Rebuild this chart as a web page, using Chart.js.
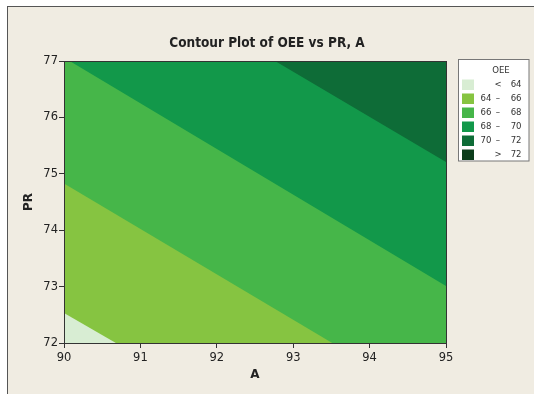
<!DOCTYPE html>
<html><head><meta charset="utf-8">
<script src="https://cdn.jsdelivr.net/npm/chart.js@4"></script>
<style>
html,body{margin:0;padding:0;background:#fff;}
#wrap{position:relative;width:534px;height:394px;overflow:hidden;}
#frame{position:absolute;left:7px;top:6px;width:600px;height:500px;background:#f0ece2;border-top:1px solid #555;border-left:1px solid #555;}
canvas{position:absolute;left:0;top:0;}
</style></head><body>
<div id="wrap"><div id="frame"></div><canvas id="c" width="534" height="394"></canvas></div>
<script>
// ---- data ----
const xTicks = [90, 91, 92, 93, 94, 95];
const yTicks = [72, 73, 74, 75, 76, 77];
const levels = [64, 66, 68, 70, 72];
// PR value of each straight contour line at A = 90 and A = 95 (lines run past the plot edges)
const contourAtA90 = [72.53, 74.83, 77.06, 79.21, 81.40];
const contourAtA95 = [68.63, 70.80, 73.01, 75.21, 77.40];
const bandColors = ['#d8edd3', '#86c441', '#46b649', '#12984a', '#0e6c37', '#0c3d1b'];

const datasets = levels.map((lv, i) => ({
  label: String(lv),
  data: [{x: xTicks[0], y: contourAtA90[i]}, {x: xTicks[xTicks.length - 1], y: contourAtA95[i]}],
  showLine: true,
  fill: 'end',
  backgroundColor: bandColors[i + 1],
  borderWidth: 0,
  pointRadius: 0,
  order: levels.length - i
}));

const legendRows = bandColors.map((c, i) => {
  if (i === 0) return {lo: '', sym: '<', hi: String(levels[0])};
  if (i === levels.length) return {lo: '', sym: '>', hi: String(levels[levels.length - 1])};
  return {lo: String(levels[i - 1]), sym: '–', hi: String(levels[i])};
});

const bgPlugin = {
  id: 'bg',
  beforeDatasetsDraw(chart) {
    const {ctx, chartArea: a} = chart;
    ctx.save();
    ctx.fillStyle = bandColors[0];
    ctx.fillRect(a.left, a.top, a.right - a.left, a.bottom - a.top);
    ctx.restore();
  },
  afterDraw(chart) {
    const {ctx, chartArea: a} = chart;
    ctx.save();
    ctx.strokeStyle = '#333';
    ctx.lineWidth = 1;
    ctx.strokeRect(Math.round(a.left) + 0.5, Math.round(a.top) + 0.5, Math.round(a.right - a.left), Math.round(a.bottom - a.top));
    // legend
    const bx = 458.5, by = 59.5, bw = 70.5, bh = 101.5;
    ctx.fillStyle = '#fff';
    ctx.fillRect(bx, by, bw, bh);
    ctx.strokeStyle = '#777';
    ctx.strokeRect(bx, by, bw, bh);
    ctx.fillStyle = '#333';
    ctx.font = '9.5px "DejaVu Sans Condensed", "DejaVu Sans"';
    ctx.textBaseline = 'middle';
    ctx.textAlign = 'center';
    ctx.fillText('OEE', 501, 70.5);
    legendRows.forEach((r, i) => {
      const y = 84.5 + i * 14;
      ctx.fillStyle = bandColors[i];
      ctx.fillRect(462, y - 5, 12, 10.5);
      ctx.fillStyle = '#333';
      ctx.textAlign = 'left';
      if (r.lo) ctx.fillText(r.lo, 480.5, y);
      ctx.textAlign = 'center';
      ctx.fillText(r.sym, 498, y);
      ctx.textAlign = 'right';
      ctx.fillText(r.hi, 521.5, y);
    });
    ctx.restore();
  }
};

new Chart(document.getElementById('c'), {
  type: 'scatter',
  data: {datasets},
  plugins: [bgPlugin],
  options: {
    responsive: false,
    animation: false,
    layout: {padding: {left: 0, right: 0, top: 0, bottom: 0}},
    plugins: {
      legend: {display: false},
      tooltip: {enabled: false},
      title: {
        display: true,
        text: 'Contour Plot of OEE vs PR, A',
        color: '#222',
        font: {family: '"DejaVu Sans Condensed", "DejaVu Sans"', size: 13.5, weight: 'bold', lineHeight: 1.2},
        padding: {top: 35, bottom: 9.8}
      }
    },
    scales: {
      x: {
        type: 'linear', min: xTicks[0], max: xTicks[xTicks.length - 1],
        afterBuildTicks: s => { s.ticks = xTicks.map(v => ({value: v})); },
        afterFit: s => { s.height = 51; },
        grid: {drawOnChartArea: false, drawTicks: true, tickLength: 5, color: '#333'},
        border: {display: true, color: '#333'},
        ticks: {color: '#222', padding: 3, font: {family: '"DejaVu Sans"', size: 11.5}},
        title: {display: true, text: 'A', color: '#222', padding: {top: 0, bottom: 12},
          font: {family: '"DejaVu Sans"', size: 12, weight: 'bold', lineHeight: 1.2}}
      },
      y: {
        type: 'linear', min: yTicks[0], max: yTicks[yTicks.length - 1],
        afterBuildTicks: s => { s.ticks = yTicks.map(v => ({value: v})); },
        afterFit: s => { s.width = 64; },
        grid: {drawOnChartArea: false, drawTicks: true, tickLength: 5, color: '#333'},
        border: {display: true, color: '#333'},
        ticks: {color: '#222', padding: 1, font: {family: '"DejaVu Sans"', size: 11.5}},
        title: {display: true, text: 'PR', color: '#222', padding: {top: 22, bottom: 0},
          font: {family: '"DejaVu Sans"', size: 12, weight: 'bold', lineHeight: 1.2}}
      },
      yRight: {
        type: 'linear', position: 'right', display: true,
        grid: {display: false}, border: {display: false}, ticks: {display: false},
        afterFit: s => { s.width = 88; }
      }
    }
  }
});
</script>
</body></html>
